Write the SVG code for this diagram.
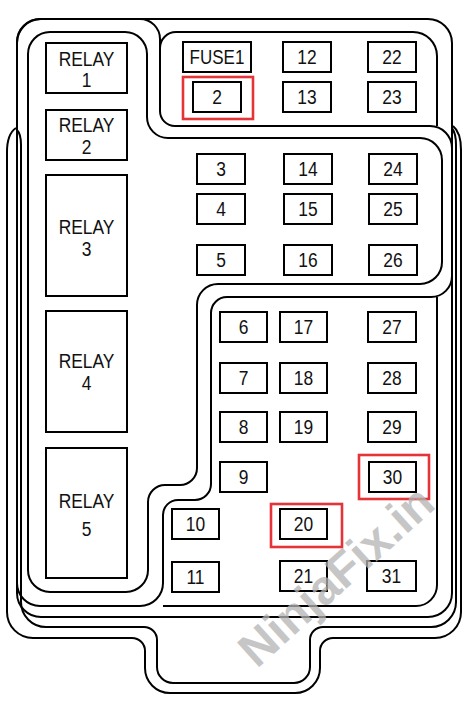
<svg xmlns="http://www.w3.org/2000/svg" width="474" height="703" viewBox="0 0 474 703">
<style>
.ln{fill:none;stroke:#000;stroke-width:2;stroke-linejoin:round}
.bx{fill:#fff;stroke:#000;stroke-width:2}
.hl{fill:none;stroke:#e5333a;stroke-width:2.6}
.t{font-family:"Liberation Sans",Arial,sans-serif;font-size:20px;fill:#111;text-anchor:middle}
.wm{font-family:"Liberation Sans",Arial,sans-serif;font-weight:bold;font-size:48px;fill:#b4b4b4;opacity:0.75;text-anchor:middle}
</style>
<rect width="474" height="703" fill="#fff"/>
<g id="housing">
<path class="ln" d="M16,128 C10,132 7,140 7,152 L7,612 A26,26 0 0 0 33,638 L132,638 A13,13 0 0 1 145,651 L145,668 A25,25 0 0 0 170,693 L295,693 A25,25 0 0 0 320,668 L320,651 A13,13 0 0 1 333,638 L435,638 A26,26 0 0 0 461,612 L461,150 C461,138 458,130 453,126"/>
<path class="ln" d="M17,130 C20,133 21,138 21,145 L21,602 A25,25 0 0 0 46,627 L144,627 A13,13 0 0 1 157,640 L157,667 A16,16 0 0 0 173,683 L294,683 A16,16 0 0 0 310,667 L310,640 A13,13 0 0 1 323,627 L431,627 A25,25 0 0 0 456,602 L456,145 C456,137 455,132 452,128"/>
<rect class="ln" x="17" y="19" width="435" height="598" rx="24"/>
<path class="ln" d="M17,42 A23,23 0 0 1 40,19 L140,19 A20,20 0 0 1 160,39 L160,111 A15,15 0 0 0 175,126 L430,126 A22,22 0 0 1 452,148 L452,276 A21,21 0 0 1 431,297 L227,297 A16,16 0 0 0 211,313 L211,484 A16,16 0 0 1 195,500 L178,500 A15,15 0 0 0 163,515 L163,583 A23,23 0 0 1 140,606 L40,606 A23,23 0 0 1 17,583 Z"/>
<path class="ln" d="M28,54 A22,22 0 0 1 50,32 L125,32 A22,22 0 0 1 147,54 L147,117 A21,21 0 0 0 168,138 L420,138 A22,22 0 0 1 442,160 L442,262 A22,22 0 0 1 420,284 L218,284 A21,21 0 0 0 197,305 L197,468 A17,17 0 0 1 180,485 L165,485 A17,17 0 0 0 148,502 L148,570 A22,22 0 0 1 126,592 L50,592 A22,22 0 0 1 28,570 Z"/>
<path class="ln" d="M160,48 A16,16 0 0 1 176,32 L413,32 A24,24 0 0 1 437,56 L437,126"/>
<path class="ln" d="M437,297 L437,585 A21,21 0 0 1 416,606 L163,606"/>
</g>
<g id="connectors"/>
<g id="relay1"><rect class="bx" x="46" y="43" width="81" height="50"/><text class="t" transform="translate(86.5 66) scale(0.87 1)">RELAY</text><text class="t" transform="translate(86.5 87) scale(0.87 1)">1</text></g>
<g id="relay2"><rect class="bx" x="46" y="110" width="81" height="50"/><text class="t" transform="translate(86.5 132) scale(0.87 1)">RELAY</text><text class="t" transform="translate(86.5 154) scale(0.87 1)">2</text></g>
<g id="relay3"><rect class="bx" x="46" y="175" width="81" height="121"/><text class="t" transform="translate(86.5 234) scale(0.87 1)">RELAY</text><text class="t" transform="translate(86.5 256) scale(0.87 1)">3</text></g>
<g id="relay4"><rect class="bx" x="46" y="311" width="81" height="121"/><text class="t" transform="translate(86.5 368) scale(0.87 1)">RELAY</text><text class="t" transform="translate(86.5 390) scale(0.87 1)">4</text></g>
<g id="relay5"><rect class="bx" x="46" y="448" width="81" height="130"/><text class="t" transform="translate(86.5 508) scale(0.87 1)">RELAY</text><text class="t" transform="translate(86.5 536) scale(0.87 1)">5</text></g>
<g id="fuse1"><rect class="bx" x="183" y="42" width="68" height="30"/><text class="t" transform="translate(217 64) scale(0.85 1)">FUSE1</text></g>
<g id="fuse12"><rect class="bx" x="283" y="42" width="48" height="30"/><text class="t" transform="translate(307 64) scale(0.87 1)">12</text></g>
<g id="fuse22"><rect class="bx" x="368" y="42" width="48" height="30"/><text class="t" transform="translate(392 64) scale(0.87 1)">22</text></g>
<g id="fuse2"><rect class="bx" x="193" y="82" width="48" height="30"/><text class="t" transform="translate(217 104) scale(0.87 1)">2</text><rect class="hl" x="183" y="77" width="70" height="42"/></g>
<g id="fuse13"><rect class="bx" x="283" y="82" width="48" height="30"/><text class="t" transform="translate(307 104) scale(0.87 1)">13</text></g>
<g id="fuse23"><rect class="bx" x="368" y="82" width="48" height="30"/><text class="t" transform="translate(392 104) scale(0.87 1)">23</text></g>
<g id="fuse3"><rect class="bx" x="197" y="154" width="48" height="30"/><text class="t" transform="translate(221 176) scale(0.87 1)">3</text></g>
<g id="fuse14"><rect class="bx" x="284" y="154" width="48" height="30"/><text class="t" transform="translate(308 176) scale(0.87 1)">14</text></g>
<g id="fuse24"><rect class="bx" x="369" y="154" width="48" height="30"/><text class="t" transform="translate(393 176) scale(0.87 1)">24</text></g>
<g id="fuse4"><rect class="bx" x="197" y="194" width="48" height="30"/><text class="t" transform="translate(221 216) scale(0.87 1)">4</text></g>
<g id="fuse15"><rect class="bx" x="284" y="194" width="48" height="30"/><text class="t" transform="translate(308 216) scale(0.87 1)">15</text></g>
<g id="fuse25"><rect class="bx" x="369" y="194" width="48" height="30"/><text class="t" transform="translate(393 216) scale(0.87 1)">25</text></g>
<g id="fuse5"><rect class="bx" x="197" y="245" width="48" height="30"/><text class="t" transform="translate(221 267) scale(0.87 1)">5</text></g>
<g id="fuse16"><rect class="bx" x="284" y="245" width="48" height="30"/><text class="t" transform="translate(308 267) scale(0.87 1)">16</text></g>
<g id="fuse26"><rect class="bx" x="369" y="245" width="48" height="30"/><text class="t" transform="translate(393 267) scale(0.87 1)">26</text></g>
<g id="fuse6"><rect class="bx" x="220" y="312" width="47" height="30"/><text class="t" transform="translate(243.5 334) scale(0.87 1)">6</text></g>
<g id="fuse17"><rect class="bx" x="280" y="312" width="47" height="30"/><text class="t" transform="translate(303.5 334) scale(0.87 1)">17</text></g>
<g id="fuse27"><rect class="bx" x="368" y="312" width="48" height="30"/><text class="t" transform="translate(392 334) scale(0.87 1)">27</text></g>
<g id="fuse7"><rect class="bx" x="220" y="363" width="47" height="30"/><text class="t" transform="translate(243.5 385) scale(0.87 1)">7</text></g>
<g id="fuse18"><rect class="bx" x="280" y="363" width="47" height="30"/><text class="t" transform="translate(303.5 385) scale(0.87 1)">18</text></g>
<g id="fuse28"><rect class="bx" x="368" y="363" width="48" height="30"/><text class="t" transform="translate(392 385) scale(0.87 1)">28</text></g>
<g id="fuse8"><rect class="bx" x="220" y="412" width="47" height="30"/><text class="t" transform="translate(243.5 434) scale(0.87 1)">8</text></g>
<g id="fuse19"><rect class="bx" x="280" y="412" width="47" height="30"/><text class="t" transform="translate(303.5 434) scale(0.87 1)">19</text></g>
<g id="fuse29"><rect class="bx" x="368" y="412" width="48" height="30"/><text class="t" transform="translate(392 434) scale(0.87 1)">29</text></g>
<g id="fuse9"><rect class="bx" x="220" y="462" width="47" height="30"/><text class="t" transform="translate(243.5 484) scale(0.87 1)">9</text></g>
<g id="fuse30"><rect class="bx" x="369" y="462" width="47" height="30"/><text class="t" transform="translate(392.5 484) scale(0.87 1)">30</text><rect class="hl" x="359" y="455" width="70" height="44"/></g>
<g id="fuse10"><rect class="bx" x="172" y="509" width="47" height="30"/><text class="t" transform="translate(195.5 531) scale(0.87 1)">10</text></g>
<g id="fuse20"><rect class="bx" x="280" y="509" width="47" height="30"/><text class="t" transform="translate(303.5 531) scale(0.87 1)">20</text><rect class="hl" x="271" y="504" width="71" height="43"/></g>
<g id="fuse11"><rect class="bx" x="172" y="562" width="47" height="30"/><text class="t" transform="translate(195.5 584) scale(0.87 1)">11</text></g>
<g id="fuse21"><rect class="bx" x="280" y="561" width="47" height="30"/><text class="t" transform="translate(303.5 583) scale(0.87 1)">21</text></g>
<g id="fuse31"><rect class="bx" x="367" y="561" width="49" height="30"/><text class="t" transform="translate(391.5 583) scale(0.87 1)">31</text></g>
<text class="wm" transform="translate(347 588) rotate(-42)">NinjaFix.in</text>
</svg>
